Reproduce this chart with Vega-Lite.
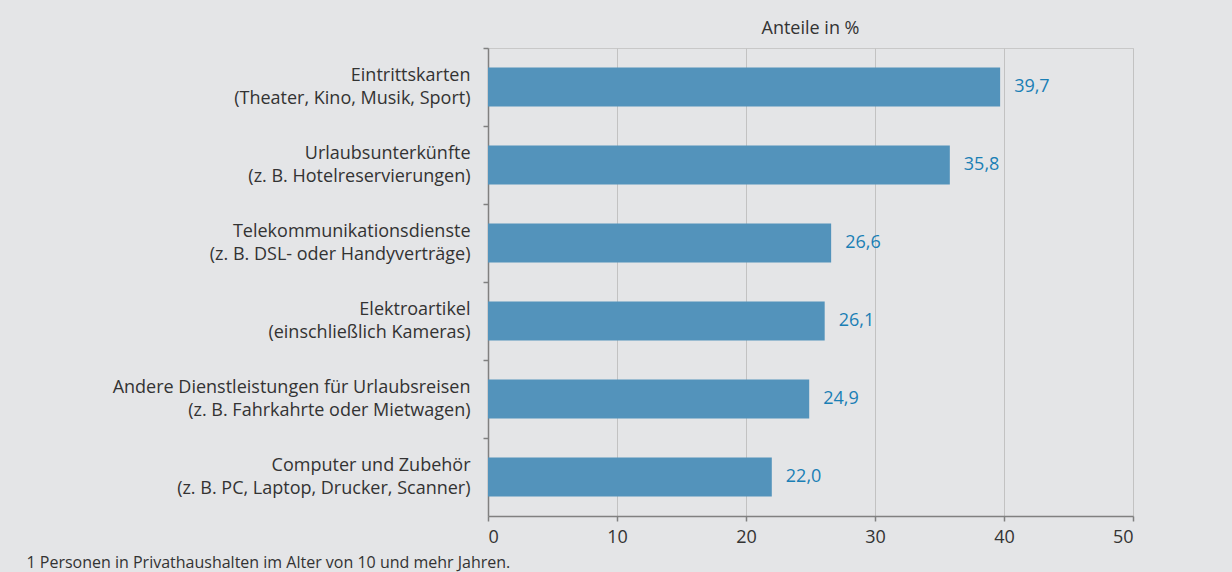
{
  "$schema": "https://vega.github.io/schema/vega-lite/v6.json",
  "autosize": {"type": "none"},
  "width": 645,
  "height": 468,
  "padding": {"left": 488, "top": 48, "right": 99, "bottom": 56},
  "background": "#e4e5e7",
  "title": {
    "text": "Anteile in %",
    "anchor": "middle",
    "frame": "group",
    "orient": "top",
    "offset": 13,
    "dy": 22,
    "baseline": "bottom",
    "font": "Open Sans",
    "fontSize": 18,
    "fontWeight": "normal",
    "color": "#333333"
  },
  "data": {
    "values": [
      {"kategorie": "Eintrittskarten|(Theater, Kino, Musik, Sport)", "anteil": 39.7},
      {"kategorie": "Urlaubsunterkünfte|(z. B. Hotelreservierungen)", "anteil": 35.8},
      {"kategorie": "Telekommunikationsdienste|(z. B. DSL- oder Handyverträge)", "anteil": 26.6},
      {"kategorie": "Elektroartikel|(einschließlich Kameras)", "anteil": 26.1},
      {"kategorie": "Andere Dienstleistungen für Urlaubsreisen |(z. B. Fahrkahrte oder Mietwagen)", "anteil": 24.9},
      {"kategorie": "Computer und Zubehör|(z. B. PC, Laptop, Drucker, Scanner)", "anteil": 22.0}
    ]
  },
  "encoding": {
    "x": {
      "field": "anteil",
      "type": "quantitative",
      "scale": {"domain": [0, 50], "nice": false},
      "axis": {
        "values": [0, 10, 20, 30, 40, 50],
        "format": "d",
        "title": "1 Personen in Privathaushalten im Alter von 10 und mehr Jahren.",
        "titleX": -462,
        "titleY": 46,
        "titleAlign": "left",
        "titleAnchor": "start",
        "titleBaseline": "middle",
        "titleFont": "Open Sans",
        "titleFontSize": 16,
        "titleFontWeight": "normal",
        "titleColor": "#333333",
        "labelFont": "Open Sans",
        "labelFontSize": 18,
        "labelColor": "#333333",
        "labelPadding": 7,
        "tickSize": 5,
        "tickColor": "#808080",
        "tickWidth": 1.5,
        "domainColor": "#808080",
        "domainWidth": 1.5,
        "grid": true,
        "gridColor": "#c2c2c2",
        "gridWidth": 1
      }
    }
  },
  "layer": [
    {
      "mark": {"type": "bar", "color": "#5393bb"},
      "encoding": {
        "y": {
          "field": "kategorie",
          "type": "nominal",
          "sort": null,
          "scale": {"paddingInner": 0.5, "paddingOuter": 0.25},
          "axis": {
            "orient": "left",
            "title": null,
            "labelExpr": "split(datum.value, '|')",
            "labelFont": "Open Sans",
            "labelFontSize": 18,
            "labelColor": "#333333",
            "labelLineHeight": 23,
            "labelBaseline": "middle",
            "labelOffset": -11,
            "labelPadding": 18,
            "labelLimit": 500,
            "ticks": false,
            "domainColor": "#808080",
            "domainWidth": 1.5,
            "grid": false
          }
        }
      }
    },
    {
      "mark": {
        "type": "text",
        "align": "left",
        "baseline": "middle",
        "dx": 14,
        "font": "Open Sans",
        "fontSize": 18,
        "color": "#1a7fb5"
      },
      "encoding": {
        "y": {
          "field": "kategorie",
          "type": "nominal",
          "sort": null,
          "axis": {
            "orient": "left",
            "title": null,
            "labels": false,
            "domain": false,
            "bandPosition": -0.5,
            "tickSize": 5,
            "tickColor": "#808080",
            "tickWidth": 1.5,
            "grid": false
          }
        },
        "text": {"field": "anteil", "type": "quantitative", "format": ".1f"}
      }
    }
  ],
  "resolve": {"axis": {"y": "independent"}},
  "config": {
    "locale": {
      "number": {"decimal": ",", "thousands": ".", "grouping": [3], "currency": ["", " €"]}
    },
    "view": {"stroke": "#c8c8c8", "strokeWidth": 1}
  }
}
